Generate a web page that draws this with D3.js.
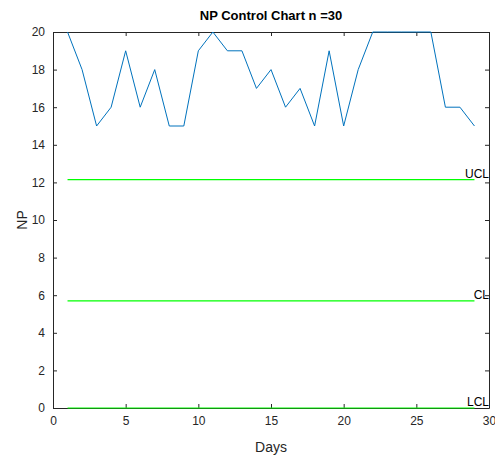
<!DOCTYPE html>
<html>
<head>
<meta charset="utf-8">
<script src="https://cdn.jsdelivr.net/npm/d3@7"></script>
<style>
  body { margin: 0; background: #fff; }
  svg { display: block; font-family: "Liberation Sans", Arial, sans-serif; }
</style>
</head>
<body>
<div class="container"></div>
<script>
const width = 495;
const height = 456;
const margin = { top: 32, right: 6, bottom: 48, left: 53 };

// dados
const days = [1, 2, 3, 4, 5, 6, 7, 8, 9, 10, 11, 12, 13, 14, 15, 16, 17, 18, 19, 20, 21, 22, 23, 24, 25, 26, 27, 28, 29];
const np = [20, 18, 15, 16, 19, 16, 18, 15, 15, 19, 20, 19, 19, 17, 18, 16, 17, 15, 19, 15, 18, 20, 20, 20, 20, 20, 16, 16, 15];
const limitNames = ['UCL', 'CL', 'LCL'];
const limitValues = [12.15, 5.7, 0];
const xTicks = [0, 5, 10, 15, 20, 25, 30];
const yTicks = [0, 2, 4, 6, 8, 10, 12, 14, 16, 18, 20];

const axisColor = '#262626';

const svg = d3.select('.container')
  .append('svg')
  .attr('width', width)
  .attr('height', height);

const x = d3.scaleLinear().domain([0, 30]).range([margin.left, width - margin.right]);
const y = d3.scaleLinear().domain([0, 20]).range([height - margin.bottom, margin.top]);

// eixos (desenhados primeiro, as linhas ficam por cima)
const fmt = d3.format('d');
const axes = [
  { axis: d3.axisBottom(x).tickValues(xTicks).tickFormat(fmt), t: `translate(0,${y(0)})` },
  { axis: d3.axisTop(x).tickValues(xTicks).tickFormat(''), t: `translate(0,${y(20)})` },
  { axis: d3.axisLeft(y).tickValues(yTicks).tickFormat(fmt), t: `translate(${x(0)},0)` },
  { axis: d3.axisRight(y).tickValues(yTicks).tickFormat(''), t: `translate(${x(30)},0)` }
];

axes.forEach(a => {
  const ax = svg.append('g')
    .attr('transform', a.t)
    .call(a.axis.tickSizeInner(-4).tickSizeOuter(0).tickPadding(8));
  ax.select('.domain').attr('stroke', axisColor);
  ax.selectAll('.tick line').attr('stroke', axisColor);
  ax.selectAll('.tick text')
    .attr('fill', axisColor)
    .attr('font-size', '12px');
});

const g = svg.append('g');

// linhas de controle
g.selectAll('.limite')
  .data(limitValues)
  .enter()
  .append('line')
  .attr('class', 'limite')
  .attr('x1', x(days[0]))
  .attr('x2', x(days[days.length - 1]))
  .attr('y1', d => y(d))
  .attr('y2', d => y(d))
  .attr('stroke', '#00ff00')
  .attr('stroke-width', 1.2);

// serie
const line = d3.line()
  .x((d, i) => x(days[i]))
  .y(d => y(d));

g.append('path')
  .datum(np)
  .attr('d', line)
  .attr('fill', 'none')
  .attr('stroke', '#0072bd')
  .attr('stroke-width', 1);

// rotulos das linhas
g.selectAll('.rotulo')
  .data(limitValues)
  .enter()
  .append('text')
  .attr('class', 'rotulo')
  .attr('x', x(30))
  .attr('y', d => y(d) - 2)
  .attr('text-anchor', 'end')
  .attr('font-size', '12px')
  .attr('fill', '#000')
  .text((d, i) => limitNames[i]);

// titulo
svg.append('text')
  .attr('x', (x(0) + x(30)) / 2)
  .attr('y', 20)
  .attr('text-anchor', 'middle')
  .attr('font-size', '13px')
  .attr('font-weight', 'bold')
  .attr('fill', '#000')
  .text('NP Control Chart n =30');

svg.append('text')
  .attr('x', (x(0) + x(30)) / 2)
  .attr('y', 452)
  .attr('text-anchor', 'middle')
  .attr('font-size', '14px')
  .attr('fill', axisColor)
  .text('Days');

svg.append('text')
  .attr('transform', `translate(27,${(y(0) + y(20)) / 2}) rotate(-90)`)
  .attr('text-anchor', 'middle')
  .attr('font-size', '14px')
  .attr('fill', axisColor)
  .text('NP');
</script>
</body>
</html>
